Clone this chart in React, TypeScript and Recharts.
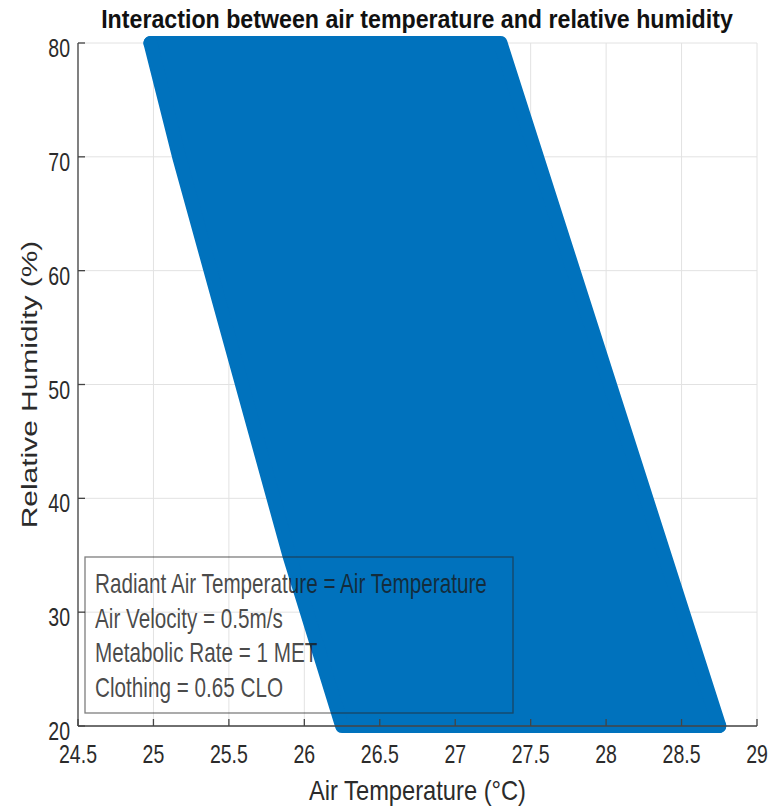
import React from 'react';
import { ComposedChart, Area, XAxis, YAxis, CartesianGrid } from 'recharts';

// Axis ticks
const temperatureTicks = [24.5, 25, 25.5, 26, 26.5, 27, 27.5, 28, 28.5, 29];
const humidityTicks = [20, 30, 40, 50, 60, 70, 80];

// Comfort region: for each air temperature (°C), the relative humidity span (%) covered
const zoneTemp = [24.98, 25.17, 25.9, 26.25, 27.3, 28.75];
const zoneRhLow = [80, 70, 35, 20, 20, 20];
const zoneRhHigh = [80, 80, 80, 80, 80, 20];

const titleText = 'Interaction between air temperature and relative humidity';
const xLabelText = 'Air Temperature (°C)';
const yLabelText = 'Relative Humidity (%)';
const noteLines = [
  'Radiant Air Temperature = Air Temperature',
  'Air Velocity = 0.5m/s',
  'Metabolic Rate = 1 MET',
  'Clothing = 0.65 CLO',
];

const chartData = zoneTemp.map((t, i) => ({ t, rh: [zoneRhLow[i], zoneRhHigh[i]] }));

const W = 769;
const H = 810;
const FONT = '"Liberation Sans", Arial, Helvetica, sans-serif';
const BLUE = '#0072BD';
const AXIS = '#444444';
const TEXT = '#2b2b2b';

const XTick = (props: any) => {
  const { x, y, payload } = props;
  return (
    <g>
      <line x1={x} x2={x} y1={y} y2={y - 7} stroke={AXIS} strokeWidth={1.3} />
      <text
        transform={`translate(${x},${y + 37}) scale(1,1.3)`}
        textAnchor="middle"
        fontSize={19.5}
        fill={TEXT}
        fontFamily={FONT}
      >
        {payload.value}
      </text>
    </g>
  );
};

const YTick = (props: any) => {
  const { x, y, payload } = props;
  return (
    <g>
      <line x1={x} x2={x + 7} y1={y} y2={y} stroke={AXIS} strokeWidth={1.3} />
      <text
        transform={`translate(${x - 8},${y + 14}) scale(1,1.3)`}
        textAnchor="end"
        fontSize={19.5}
        fill={TEXT}
        fontFamily={FONT}
      >
        {payload.value}
      </text>
    </g>
  );
};

const XLabel = (props: any) => {
  const { viewBox } = props;
  const cx = viewBox.x + viewBox.width / 2;
  const by = viewBox.y + 74;
  return (
    <text
      transform={`translate(${cx},${by}) scale(1,1.2)`}
      textAnchor="middle"
      fontSize={23.7}
      fill={TEXT}
      fontFamily={FONT}
    >
      {xLabelText}
    </text>
  );
};

const YLabel = (props: any) => {
  const { viewBox } = props;
  const cy = viewBox.y + viewBox.height / 2;
  return (
    <text
      transform={`translate(37,${cy}) rotate(-90) scale(1.36,1)`}
      textAnchor="middle"
      fontSize={22}
      fill={TEXT}
      fontFamily={FONT}
    >
      {yLabelText}
    </text>
  );
};

export default function App() {
  return (
    <div style={{ position: 'absolute', left: 0, top: 0, width: W, height: H, background: '#fff' }}>
      <ComposedChart
        width={W}
        height={H}
        data={chartData}
        margin={{ top: 43, right: 12, left: 0, bottom: 0 }}
      >
        <CartesianGrid stroke="#e2e2e2" strokeWidth={1} />
        <XAxis
          dataKey="t"
          type="number"
          domain={[24.5, 29]}
          ticks={temperatureTicks}
          interval={0}
          height={84}
          tickSize={0}
          tickMargin={0}
          tickLine={false}
          axisLine={{ stroke: AXIS, strokeWidth: 1.3 }}
          tick={<XTick />}
          label={{ content: (p: any) => <XLabel {...p} /> }}
        />
        <YAxis
          type="number"
          domain={[20, 80]}
          ticks={humidityTicks}
          interval={0}
          width={78}
          tickSize={0}
          tickMargin={0}
          tickLine={false}
          axisLine={{ stroke: AXIS, strokeWidth: 1.3 }}
          tick={<YTick />}
          label={{ content: (p: any) => <YLabel {...p} /> }}
        />
        <Area
          dataKey="rh"
          type="linear"
          fill={BLUE}
          fillOpacity={1}
          stroke={BLUE}
          strokeWidth={14}
          strokeLinejoin="round"
          strokeLinecap="round"
          isAnimationActive={false}
          dot={false}
          activeDot={false}
        />
      </ComposedChart>
      <svg
        width={W}
        height={H}
        style={{ position: 'absolute', left: 0, top: 0, pointerEvents: 'none' }}
      >
        <text
          transform="translate(417,28) scale(1,1.15)"
          textAnchor="middle"
          fontSize={23.2}
          fontWeight="bold"
          fill="#111"
          fontFamily={FONT}
        >
          {titleText}
        </text>
        <rect x={85} y={557} width={428} height={156} fill="none" stroke="rgba(40,40,40,0.6)" strokeWidth={1.3} />
        {noteLines.map((line, i) => (
          <text
            key={line}
            transform={`translate(95,${593 + i * 34.7}) scale(1,1.36)`}
            fontSize={20.7}
            fill="rgba(25,25,25,0.8)"
            fontFamily={FONT}
          >
            {line}
          </text>
        ))}
      </svg>
    </div>
  );
}
